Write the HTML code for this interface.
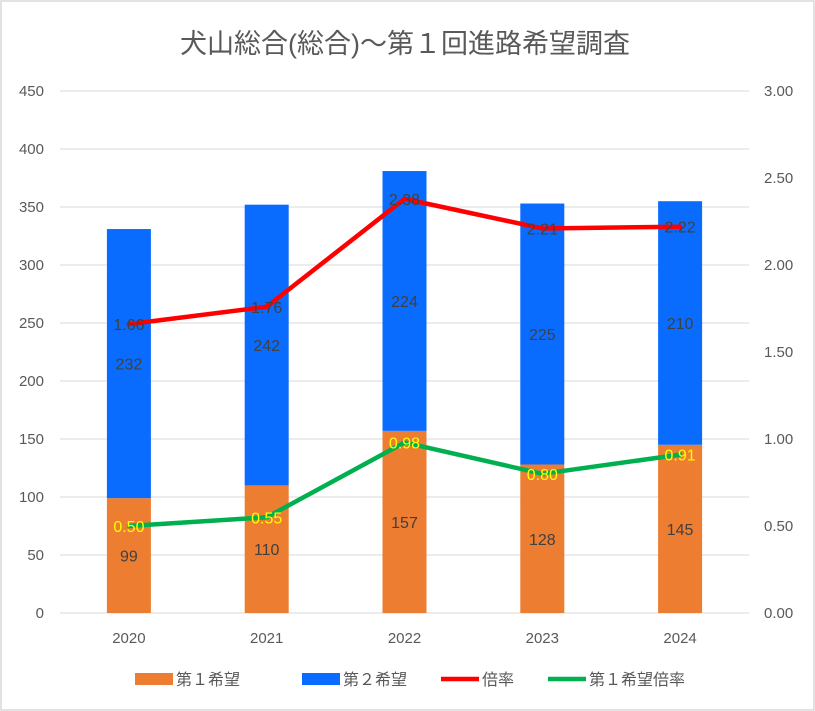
<!DOCTYPE html>
<html><head><meta charset="utf-8"><style>
body{margin:0;background:#fff}
svg{display:block;font-family:"Liberation Sans","Noto Sans CJK JP",sans-serif}
</style></head><body>
<svg id="c" width="815" height="711">
<rect x="1" y="1" width="813" height="709" fill="#fff" stroke="#d9d9d9" stroke-width="1.5"/>
<text x="405" y="53" text-anchor="middle" font-size="27" fill="#595959">犬山総合(総合)～第１回進路希望調査</text>
<g id="g"></g>
</svg>
<script>
const categories=["2020","2021","2022","2023","2024"];
const first=[99,110,157,128,145];
const second=[232,242,224,225,210];
const ratio=[1.66,1.76,2.38,2.21,2.22];
const firstRatio=[0.50,0.55,0.98,0.80,0.91];
const leftTicks=[0,50,100,150,200,250,300,350,400,450];
const rightTicks=["0.00","0.50","1.00","1.50","2.00","2.50","3.00"];
const NS="http://www.w3.org/2000/svg";
const g=document.getElementById('g');
const X0=60,X1=749,Y0=613,Y1=91;
const yL=v=>Y0-(v/450)*(Y0-Y1);
const yR=v=>Y0-(v/3)*(Y0-Y1);
const xC=i=>X0+(i+0.5)*(X1-X0)/categories.length;
function el(t,a,txt){const e=document.createElementNS(NS,t);for(const k in a)e.setAttribute(k,a[k]);if(txt!==undefined)e.textContent=txt;g.appendChild(e);return e;}
leftTicks.forEach(v=>{
 const l=el('line',{x1:X0,x2:X1,y1:yL(v),y2:yL(v),stroke:'#d9d9d9','stroke-width':1});
 
 
 const t=el('text',{x:44,y:yL(v)+5,'text-anchor':'end','font-size':15,fill:'#595959'},v);
 
 
});
rightTicks.forEach(v=>{
 const t=el('text',{x:764,y:yR(+v)+5,'font-size':15,fill:'#595959'},v);
 
 
});
const bw=44;
categories.forEach((c,i)=>{
 const x=xC(i);
 const b1=el('rect',{x:x-bw/2,y:yL(first[i]),width:bw,height:Y0-yL(first[i]),fill:'#ed7d31'});
 
 
 const b2=el('rect',{x:x-bw/2,y:yL(first[i]+second[i]),width:bw,height:yL(first[i])-yL(first[i]+second[i]),fill:'#0a6cff'});
 
 
 const t1=el('text',{x:x,y:(yL(first[i])+Y0)/2+6,'text-anchor':'middle','font-size':16,fill:'#404040'},first[i]);
 
 
 const t2=el('text',{x:x,y:(yL(first[i])+yL(first[i]+second[i]))/2+6,'text-anchor':'middle','font-size':16,fill:'#404040'},second[i]);
 
 
 const xt=el('text',{x:x,y:643,'text-anchor':'middle','font-size':15,fill:'#595959'},c);
 
 
});
function line(vals,color,name,lc){
 const p=el('polyline',{points:vals.map((v,i)=>xC(i)+','+yR(v)).join(' '),fill:'none',stroke:color,'stroke-width':4.5,'stroke-linejoin':'round','stroke-linecap':'round'});
 
 
 vals.forEach((v,i)=>{
  const t=el('text',{x:xC(i),y:yR(v)+6,'text-anchor':'middle','font-size':16,fill:lc},v.toFixed(2));
  
  
 });
}
line(ratio,'#ff0000','line-ratio','#404040');
line(firstRatio,'#00b050','line-first-ratio','#ffff00');
const leg=[["第１希望",'#ed7d31','rect',135],["第２希望",'#0a6cff','rect',302],["倍率",'#ff0000','line',441],["第１希望倍率",'#00b050','line',548]];
leg.forEach(([n,c,t,x])=>{
 let m;
 if(t==='rect')m=el('rect',{x:x,y:673,width:38,height:12,fill:c});
 else m=el('line',{x1:x,x2:x+38,y1:679,y2:679,stroke:c,'stroke-width':4.5});
 
 
 const tt=el('text',{x:x+41,y:685,'font-size':16,fill:'#595959'},n);
 
 
});
</script>
</body></html>
